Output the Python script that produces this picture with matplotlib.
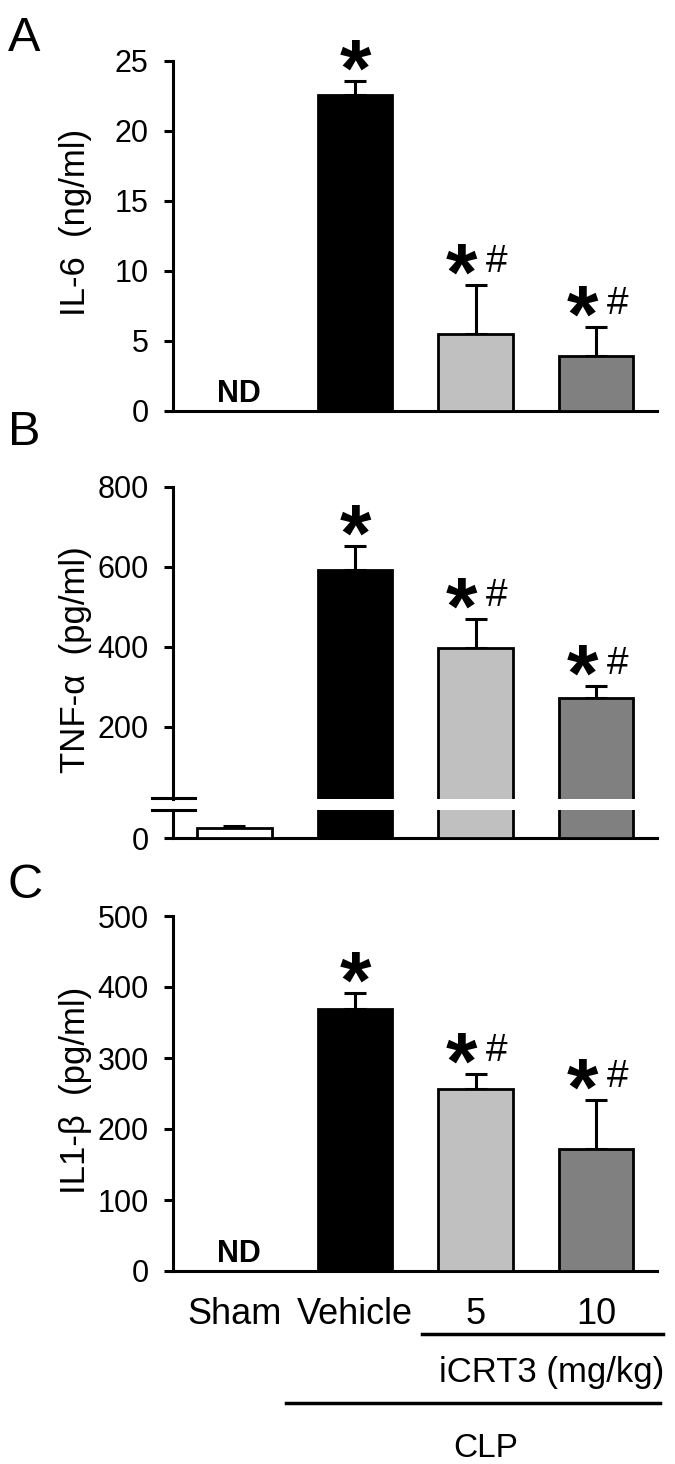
import matplotlib
matplotlib.use("Agg")
import matplotlib.pyplot as plt
from matplotlib.lines import Line2D
from matplotlib.transforms import blended_transform_factory
import numpy as np

plt.rcParams['font.family'] = ['Liberation Sans', 'DejaVu Sans']

# groups
groups = ['Sham', 'Vehicle', '5', '10']
colors = ['#FFFFFF', '#000000', '#C0C0C0', '#808080']

# A: IL-6 (ng/ml), Sham not detected
il6_mean = [0.0, 22.6, 5.5, 3.9]
il6_err = [0.0, 1.0, 3.5, 2.1]
il6_nd = [True, False, False, False]

# B: TNF-a (pg/ml)
tnf_mean = [25.0, 593.0, 397.0, 272.0]
tnf_err = [6.0, 60.0, 73.0, 30.0]

# C: IL1-b (pg/ml), Sham not detected
il1b_mean = [0.0, 369.0, 257.0, 172.0]
il1b_err = [0.0, 22.0, 21.0, 69.0]
il1b_nd = [True, False, False, False]

# significance marks
marks = ['', '*', '*#', '*#']

W, H = 675, 1464
fig = plt.figure(figsize=(W / 100, H / 100), dpi=100)

x = np.arange(len(groups))
bw = 0.62
xlim = (-0.51, 3.506)
LW = 2.2


def px_axes(x0, y0, x1, y1):
    return fig.add_axes([x0 / W, 1 - y1 / H, (x1 - x0) / W, (y1 - y0) / H])


def style(ax):
    for s in ['top', 'right']:
        ax.spines[s].set_visible(False)
    for s in ['left', 'bottom']:
        ax.spines[s].set_linewidth(LW)
        ax.spines[s].set_capstyle('projecting')
    ax.set_xlim(*xlim)
    ax.set_xticks([])
    ax.tick_params(axis='y', direction='out', length=6.5, width=LW,
                   labelsize=22, pad=11)
    ax.patch.set_visible(False)


def bars(ax, idx, means, errs):
    for i in idx:
        ax.bar(x[i], means[i], bw, color=colors[i], edgecolor='k',
               linewidth=2.0, zorder=3)
        if errs[i] > 0:
            ax.errorbar(x[i], means[i], yerr=[[0], [errs[i]]], fmt='none',
                        ecolor='k', elinewidth=2.2, capsize=8, capthick=2.2,
                        zorder=2)


def stars(ax, means, errs):
    for i, m in enumerate(marks):
        if not m:
            continue
        top = means[i] + errs[i]
        dx = 0 if m == '*' else -10
        ax.annotate('*', (x[i], top), xytext=(dx, -10.5),
                    textcoords='offset points', ha='center', va='baseline',
                    fontsize=58, fontweight='bold', annotation_clip=False)
        if '#' in m:
            ax.annotate('#', (x[i], top), xytext=(15.5, 9),
                        textcoords='offset points', ha='center', va='baseline',
                        fontsize=28, annotation_clip=False)


def nd(ax, flags):
    for i, f in enumerate(flags):
        if f:
            ax.annotate('ND', (x[i] + 0.04, 0), xytext=(0, 6.5),
                        textcoords='offset points', ha='center', va='baseline',
                        fontsize=22, fontweight='bold')


def ylabel(text, ypx):
    fig.text(76 / W, 1 - ypx / H, text, rotation=90, ha='center',
             va='center', fontsize=25)


# ---- panel A
axA = px_axes(173, 61, 657, 411)
style(axA)
bars(axA, range(4), il6_mean, il6_err)
stars(axA, il6_mean, il6_err)
nd(axA, il6_nd)
axA.set_ylim(0, 25)
axA.set_yticks([0, 5, 10, 15, 20, 25])
ylabel('IL-6  (ng/ml)', 222)

# ---- panel B (broken axis)
axB = px_axes(173, 487, 657, 799)
style(axB)
axB.spines['bottom'].set_visible(False)
bars(axB, [1, 2, 3], tnf_mean, tnf_err)
stars(axB, tnf_mean, tnf_err)
axB.set_ylim(800 - (799 - 487) / 0.4, 800)
axB.set_yticks([200, 400, 600, 800])

axB2 = px_axes(173, 810, 657, 838)
style(axB2)
bars(axB2, [0], tnf_mean, tnf_err)
for i in [1, 2, 3]:
    axB2.bar(x[i], tnf_mean[i], bw, color=colors[i], edgecolor='k',
             linewidth=2.0, zorder=3)
axB2.set_ylim(0, 70)
axB2.set_yticks([0])
ylabel('TNF-\u03b1  (pg/ml)', 660)
for yy in (798, 810):
    fig.add_artist(Line2D([152 / W, 195 / W], [1 - yy / H, 1 - yy / H],
                          transform=fig.transFigure, color='k', lw=LW))

# ---- panel C
axC = px_axes(173, 916, 657, 1271)
style(axC)
bars(axC, range(4), il1b_mean, il1b_err)
stars(axC, il1b_mean, il1b_err)
nd(axC, il1b_nd)
axC.set_ylim(0, 500)
axC.set_yticks([0, 100, 200, 300, 400, 500])
ylabel('IL1-\u03b2  (pg/ml)', 1090)

# group labels under panel C
tr = blended_transform_factory(axC.transData, fig.transFigure)
for i, g in enumerate(groups):
    axC.text(x[i], 1 - 1324 / H, g, transform=tr, ha='center', va='baseline',
             fontsize=26)
fig.add_artist(Line2D([422 / W, 663 / W], [1 - 1334 / H] * 2,
                      transform=fig.transFigure, color='k', lw=2.5))
fig.text(552 / W, 1 - 1382 / H, 'iCRT3 (mg/kg)', ha='center', va='baseline',
         fontsize=25)
fig.add_artist(Line2D([286 / W, 660 / W], [1 - 1403 / H] * 2,
                      transform=fig.transFigure, color='k', lw=2.5))
fig.text(486 / W, 1 - 1457 / H, 'CLP', ha='center', va='baseline', fontsize=24)

# panel letters
for lab, yy in [('A', 51), ('B', 445), ('C', 898)]:
    fig.text(8 / W, 1 - yy / H, lab, ha='left', va='baseline', fontsize=35)

fig.savefig('out.png', dpi=100)
